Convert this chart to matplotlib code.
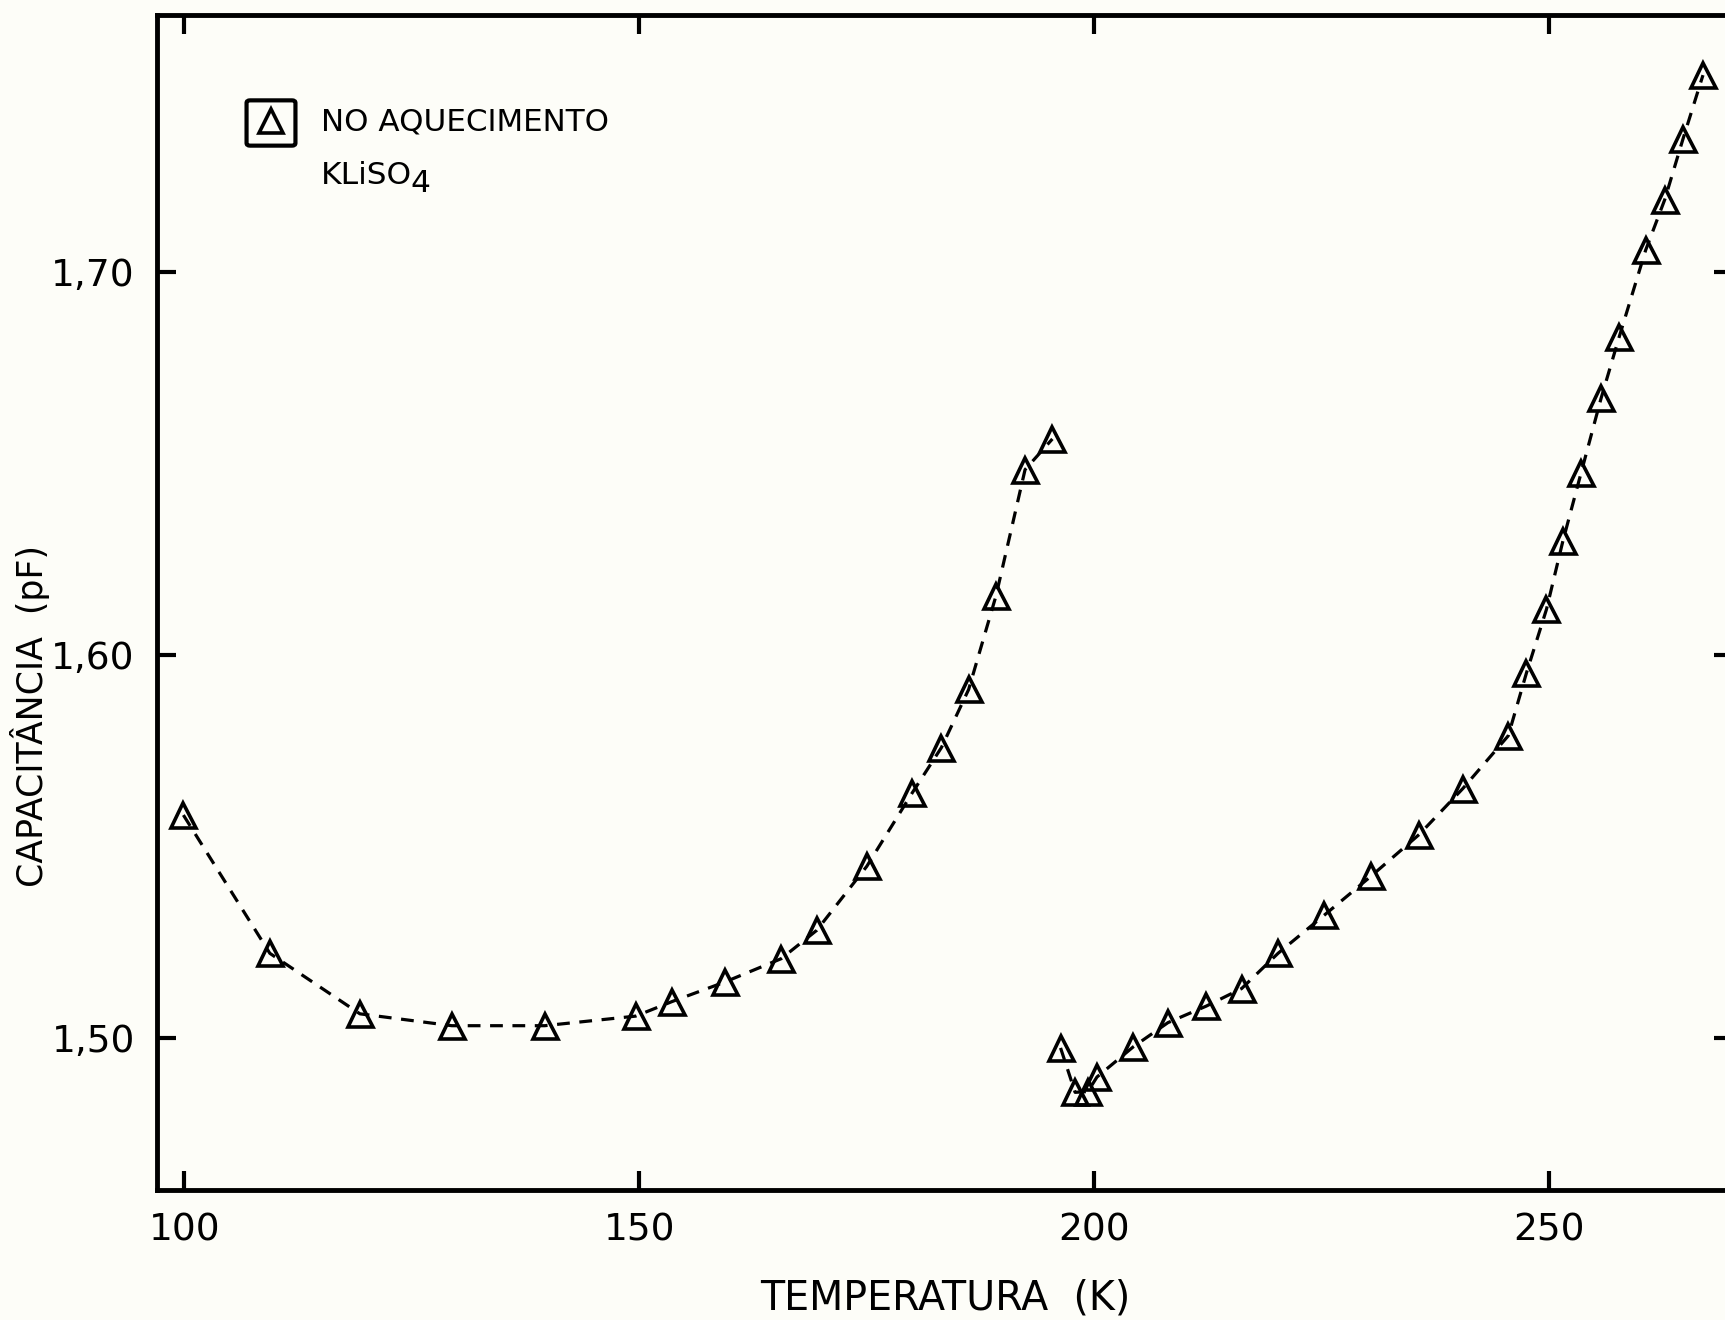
import matplotlib
matplotlib.use("Agg")
import matplotlib.pyplot as plt
from matplotlib.patches import FancyBboxPatch
from matplotlib.lines import Line2D

# low-temperature branch (K, pF)
temp_low = [99.9, 109.4, 119.3, 129.4, 139.6, 149.6, 153.6, 159.4, 165.6,
            169.5, 175.0, 180.0, 183.2, 186.2, 189.2, 192.4, 195.4]
cap_low = [1.5582, 1.5221, 1.5063, 1.5032, 1.5032, 1.5057, 1.5095, 1.5146,
           1.5207, 1.5281, 1.5448, 1.5640, 1.5758, 1.5910, 1.6154, 1.6484,
           1.6564]

# high-temperature branch
temp_high = [196.3, 197.9, 199.3, 200.3, 204.3, 208.1, 212.3, 216.2, 220.2,
             225.3, 230.4, 235.7, 240.5, 245.5, 247.5, 249.7, 251.5, 253.5,
             255.7, 257.7, 260.6, 262.7, 264.7, 266.9]
cap_high = [1.4974, 1.4858, 1.4860, 1.4898, 1.4977, 1.5040, 1.5083, 1.5129,
            1.5221, 1.5321, 1.5422, 1.5531, 1.5651, 1.5789, 1.5953, 1.6119,
            1.6297, 1.6475, 1.6670, 1.6831, 1.7057, 1.7189, 1.7347, 1.7514]

x_ticks = [100, 150, 200, 250]
x_labels = ["100", "150", "200", "250"]
y_ticks = [1.50, 1.60, 1.70]
y_labels = ["1,50", "1,60", "1,70"]

bg = "#fdfdf8"
W, H = 1725, 1320
fig = plt.figure(figsize=(W / 100, H / 100), dpi=100, facecolor=bg)
ax = fig.add_axes([157 / W, 130 / H, (1733 - 157) / W, (1190 - 15) / H])
ax.set_facecolor(bg)

style = dict(color="black", lw=2.3, dashes=(4.0, 3.0), marker="^",
             markersize=18, markerfacecolor="none", markeredgewidth=2.6,
             markeredgecolor="black")
ax.plot(temp_low, cap_low, **style)
ax.plot(temp_high, cap_high, **style)

ax.set_xlim(97.0, 270.2)
ax.set_ylim(1.4603, 1.7671)

ax.set_xticks(x_ticks)
ax.set_xticklabels(x_labels)
ax.set_yticks(y_ticks)
ax.set_yticklabels(y_labels)
ax.tick_params(direction="in", length=14, width=3, labelsize=27,
               top=True, right=True, pad=16)
for s in ax.spines.values():
    s.set_linewidth(3.5)

ax.set_xlabel("TEMPERATURA  (K)", fontsize=28.5, labelpad=22)
ax.set_ylabel("CAPACITÂNCIA  (pF)", fontsize=25)
ax.yaxis.set_label_coords(-0.068, 0.403)

# legend drawn by hand: framed triangle + labels
fig.patches.append(FancyBboxPatch((250 / W, 1 - 143 / H), 42 / W, 40 / H,
                                  boxstyle="round,pad=0.002", transform=fig.transFigure,
                                  fill=False, lw=3, ec="black"))
fig.lines.append(Line2D([271 / W], [1 - 121 / H], transform=fig.transFigure,
                        marker="^", markersize=17, markerfacecolor="none",
                        markeredgecolor="black", markeredgewidth=2.6))
fig.text(321 / W, 1 - 122 / H, "NO AQUECIMENTO", fontsize=22.3, va="center")
fig.text(321 / W, 1 - 175 / H, "KLiSO", fontsize=22.5, va="center")
fig.text(410 / W, 1 - 184 / H, "4", fontsize=22.5, va="center")

fig.savefig("out.png", dpi=100, facecolor=bg)
